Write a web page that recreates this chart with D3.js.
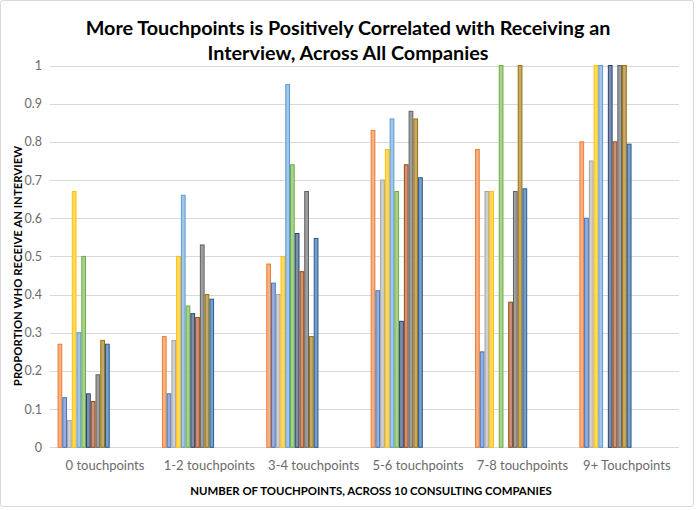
<!DOCTYPE html>
<html>
<head>
<meta charset="utf-8">
<script src="https://cdn.jsdelivr.net/npm/d3@7"></script>
<style>
  html, body { margin: 0; padding: 0; background: #ffffff; }
  svg { display: block; }
</style>
</head>
<body>
<svg id="chart" width="696" height="510"></svg>
<script>
// ---------- data ----------
const categories = ["0 touchpoints", "1-2 touchpoints", "3-4 touchpoints", "5-6 touchpoints", "7-8 touchpoints", "9+ Touchpoints"];
const seriesNames = ["Company 1", "Company 2", "Company 3", "Company 4", "Company 5", "Company 6", "Company 7", "Company 8", "Company 9", "Company 10", "Average"];
const company1  = [0.27, 0.29, 0.48, 0.83, 0.78, 0.80];
const company2  = [0.13, 0.14, 0.43, 0.41, 0.25, 0.60];
const company3  = [0.07, 0.28, 0.40, 0.70, 0.67, 0.75];
const company4  = [0.67, 0.50, 0.50, 0.78, 0.67, 1.00];
const company5  = [0.30, 0.66, 0.95, 0.86, 0.00, 1.00];
const company6  = [0.50, 0.37, 0.74, 0.67, 1.00, 0.00];
const company7  = [0.14, 0.35, 0.56, 0.33, 0.00, 1.00];
const company8  = [0.12, 0.34, 0.46, 0.74, 0.38, 0.80];
const company9  = [0.19, 0.53, 0.67, 0.88, 0.67, 1.00];
const company10 = [0.28, 0.40, 0.29, 0.86, 1.00, 1.00];
const average   = [0.27, 0.388, 0.547, 0.706, 0.677, 0.794];
const seriesValues = [company1, company2, company3, company4, company5, company6, company7, company8, company9, company10, average];
const yTicks = [0, 0.1, 0.2, 0.3, 0.4, 0.5, 0.6, 0.7, 0.8, 0.9, 1];
const yTickLabels = ["0", "0.1", "0.2", "0.3", "0.4", "0.5", "0.6", "0.7", "0.8", "0.9", "1"];
const fills   = ["#F4B183", "#97AEDC", "#CFCFCF", "#FFD966", "#A3C6E8", "#A9D18E", "#7E8EAA", "#C9927A", "#9E9E9E", "#C6A86E", "#7C9CC8"];
const strokes = ["#ED7D31", "#4472C4", "#A5A5A5", "#FFC000", "#5B9BD5", "#70AD47", "#264478", "#9E480E", "#636363", "#997300", "#255E91"];

// ---------- layout ----------
const svg = d3.select("#chart");
const W = 696, H = 510;
const plot = { left: 52.8, right: 679, top: 65.5, bottom: 447.3 };
const FONT = "Lato, 'Open Sans', sans-serif";

svg.append("rect").attr("x", 0.5).attr("y", 0.5).attr("width", W - 3).attr("height", H - 4)
  .attr("rx", 2).attr("fill", "#fff").attr("stroke", "#d9d9d9");

const x = d3.scaleBand().domain(categories).range([plot.left, plot.right]).paddingInner(0).paddingOuter(0);
const slots = d3.scaleBand().domain(d3.range(22)).range([0, x.bandwidth()]);
const y = d3.scaleLinear().domain([0, 1]).range([plot.bottom, plot.top]);

// gridlines
svg.append("g").selectAll("line").data(yTicks).join("line")
  .attr("x1", plot.left - 3).attr("x2", plot.right)
  .attr("y1", d => Math.round(y(d)) + 0.5).attr("y2", d => Math.round(y(d)) + 0.5)
  .attr("stroke", "#d9d9d9").attr("stroke-width", 1);

// y tick labels
svg.append("g").selectAll("text").data(yTicks).join("text")
  .attr("x", 42).attr("y", d => y(d) + 4.5)
  .attr("text-anchor", "end")
  .attr("font-family", FONT).attr("font-size", 12.5)
  .attr("fill", "#6b6b6b")
  .text((d, i) => yTickLabels[i]);

// bars
const barData = [];
seriesValues.forEach((vals, s) => {
  vals.forEach((v, c) => { if (v > 0) barData.push({ s, c, v }); });
});
svg.append("g").selectAll("rect").data(barData).join("rect")
  .attr("x", d => x(categories[d.c]) + slots(d.s + 1) + 0.5)
  .attr("width", slots.bandwidth() - 1)
  .attr("y", d => y(d.v))
  .attr("height", d => y(0) - y(d.v))
  .attr("fill", d => fills[d.s])
  .attr("stroke", d => strokes[d.s])
  .attr("stroke-width", 1);

// x labels
svg.append("g").selectAll("text").data(categories).join("text")
  .attr("x", d => x(d) + x.bandwidth() / 2).attr("y", 469.5)
  .attr("text-anchor", "middle")
  .attr("font-family", FONT).attr("font-size", 13)
  .attr("fill", "#6b6b6b")
  .text(d => d);

// axis titles
svg.append("text")
  .attr("x", 371).attr("y", 494.5)
  .attr("text-anchor", "middle")
  .attr("font-family", FONT).attr("font-size", 11.4).attr("font-weight", "bold")
  .attr("fill", "#000")
  .text("NUMBER OF TOUCHPOINTS, ACROSS 10 CONSULTING COMPANIES");

svg.append("text")
  .attr("transform", "translate(22,266) rotate(-90)")
  .attr("text-anchor", "middle")
  .attr("font-family", FONT).attr("font-size", 11.4).attr("font-weight", "bold")
  .attr("fill", "#000")
  .text("PROPORTION WHO RECEIVE AN INTERVIEW");

// title
const title = svg.append("text")
  .attr("text-anchor", "middle")
  .attr("font-family", FONT).attr("font-size", 19.8).attr("font-weight", "bold")
  .attr("fill", "#000");
title.append("tspan").attr("x", 348).attr("y", 35).text("More Touchpoints is Positively Correlated with Receiving an");
title.append("tspan").attr("x", 348).attr("y", 60).text("Interview, Across All Companies");
</script>
</body>
</html>
